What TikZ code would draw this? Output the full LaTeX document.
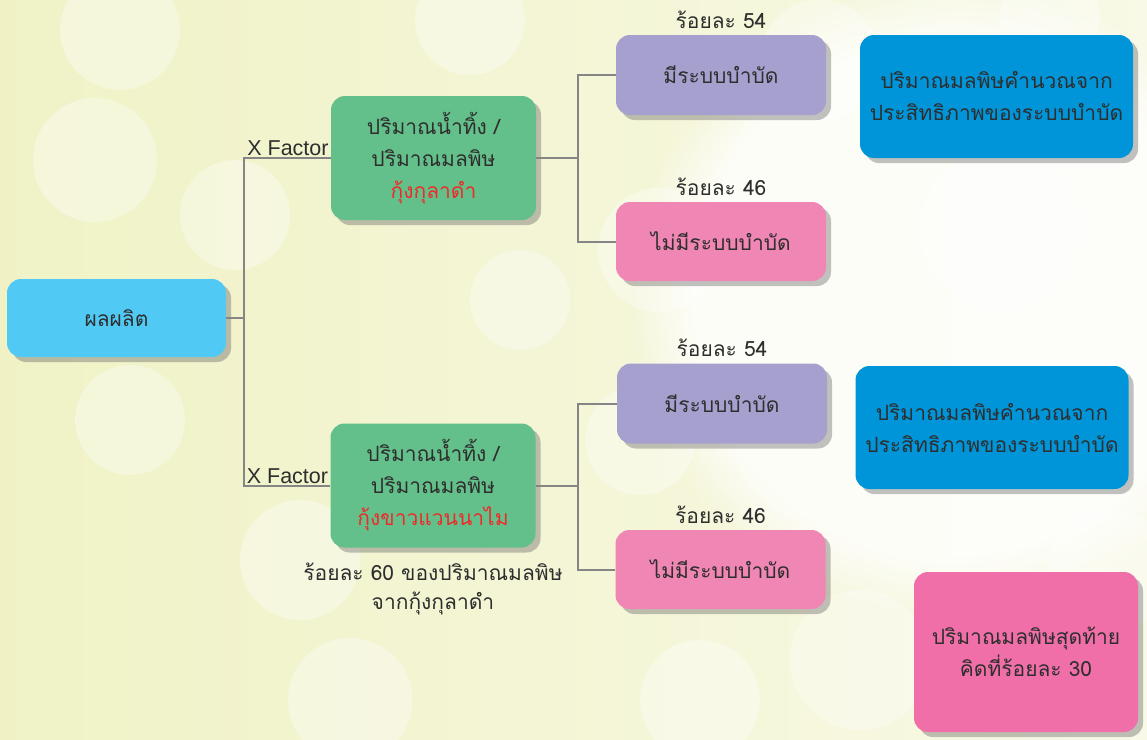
\documentclass[tikz,border=0pt]{standalone}
\usepackage{fontspec}
\setmainfont{Liberation Sans}
\newfontfamily\thaifont[Script=Thai]{Loma}
\usetikzlibrary{positioning,shadows,fadings}
\definecolor{prodblue}{HTML}{50CAF5}
\definecolor{factgreen}{HTML}{63C08A}
\definecolor{haspurple}{HTML}{A6A0CF}
\definecolor{nopink}{HTML}{F086B4}
\definecolor{calcblue}{HTML}{0095D9}
\definecolor{finpink}{HTML}{F06FA8}
\definecolor{shrimpred}{HTML}{EE2A2A}
\definecolor{bgleft}{RGB}{240,242,198}
\definecolor{bgright}{RGB}{248,249,230}

\begin{document}
\begin{tikzpicture}[
			x=1pt,y=-1pt,
			every node/.style={
				align=center,
				text=black!82,
				font=\thaifont\fontsize{21}{32}\selectfont
			},
			box/.style={
				rounded corners=14pt,
				inner sep=0pt,
				drop shadow={shadow xshift=5pt,shadow yshift=-5pt,opacity=0.4,fill=black!60}
			},
			prod/.style={box,fill=prodblue,minimum width=219pt,minimum height=78pt},
			fact/.style={box,fill=factgreen,minimum width=205pt,minimum height=124pt},
			hassys/.style={box,fill=haspurple,minimum width=210pt,minimum height=80pt},
			nosys/.style={box,fill=nopink,minimum width=210pt,minimum height=79pt},
			calc/.style={box,fill=calcblue,minimum width=273pt,minimum height=123pt},
			final/.style={box,fill=finpink,minimum width=224pt,minimum height=160pt},
			pct/.style={inner sep=1pt},
			xlab/.style={font=\fontsize{21.5}{24}\selectfont,inner sep=2pt},
			conn/.style={draw=black!48,line width=2pt}
			]
			
			\useasboundingbox (0,0) rectangle (1147,739);
			% background
			\begin{scope}
			\clip (0,0) rectangle (1147,739);
			\shade[left color=bgleft,right color=bgright] (0,0) rectangle (1147,739);
			\fill[white,path fading=circle with fuzzy edge 20 percent,opacity=0.8] (950,300) circle (320);
			\foreach \cx/\cy/\r in {95/160/62,235/215/55,120/30/60,300/560/60,
				350/700/62,660/250/62,640/440/55,700/700/60,1000/230/80,
				1110/570/62,860/660/70,470/20/55,820/60/60,1050/20/50,
				130/420/55,520/300/50}
			\fill[white,opacity=0.35] (\cx,\cy) circle (\r);
			\end{scope}
			
			\node[prod] (yield) at (116.5,318) {ผลผลิต};
			
			\node[fact] (black) at (433.5,158) {ปริมาณน้ำทิ้ง /\\ปริมาณมลพิษ\\\textcolor{shrimpred}{กุ้งกุลาดำ}};
			\node[fact] (white) at (433,485.5) {ปริมาณน้ำทิ้ง /\\ปริมาณมลพิษ\\\textcolor{shrimpred}{กุ้งขาวแวนนาไม}};
			
			\node[hassys] (has1) at (721,75) {มีระบบบำบัด};
			\node[nosys] (no1) at (721,241.5) {ไม่มีระบบบำบัด};
			\node[hassys] (has2) at (722,403.5) {มีระบบบำบัด};
			\node[nosys] (no2) at (720.5,569.5) {ไม่มีระบบบำบัด};
			
			\node[calc] (eff1) at (996.5,96.5) {ปริมาณมลพิษคำนวณจาก\\ประสิทธิภาพของระบบบำบัด};
			\node[calc] (eff2) at (992,427.5) {ปริมาณมลพิษคำนวณจาก\\ประสิทธิภาพของระบบบำบัด};
			\node[final] (last) at (1026,652) {ปริมาณมลพิษสุดท้าย\\คิดที่ร้อยละ 30};
			
			\node[pct,above=5pt of has1] (p54a) {ร้อยละ 54};
			\node[pct,above=5pt of no1] (p46a) {ร้อยละ 46};
			\node[pct,above=5pt of has2] (p54b) {ร้อยละ 54};
			\node[pct,above=5pt of no2] (p46b) {ร้อยละ 46};
			\node[pct,below=14pt of white,font=\thaifont\fontsize{21}{29}\selectfont] (share) {ร้อยละ 60 ของปริมาณมลพิษ\\จากกุ้งกุลาดำ};
			
			\draw[conn] (yield.east) -- ++(18,0) coordinate (split) |- (black.west);
			\draw[conn] (split) |- (white.west);
			\draw[conn] (black.east) -- ++(42,0) coordinate (splita) |- (has1.west);
			\draw[conn] (splita) |- (no1.west);
			\draw[conn] (white.east) -- ++(42,0) coordinate (splitb) |- (has2.west);
			\draw[conn] (splitb) |- (no2.west);
			
			\node[xlab,anchor=south east] (xf1) at (black.west) {X Factor};
			\node[xlab,anchor=south east] (xf2) at (white.west) {X Factor};
			
		\end{tikzpicture}
\end{document}
